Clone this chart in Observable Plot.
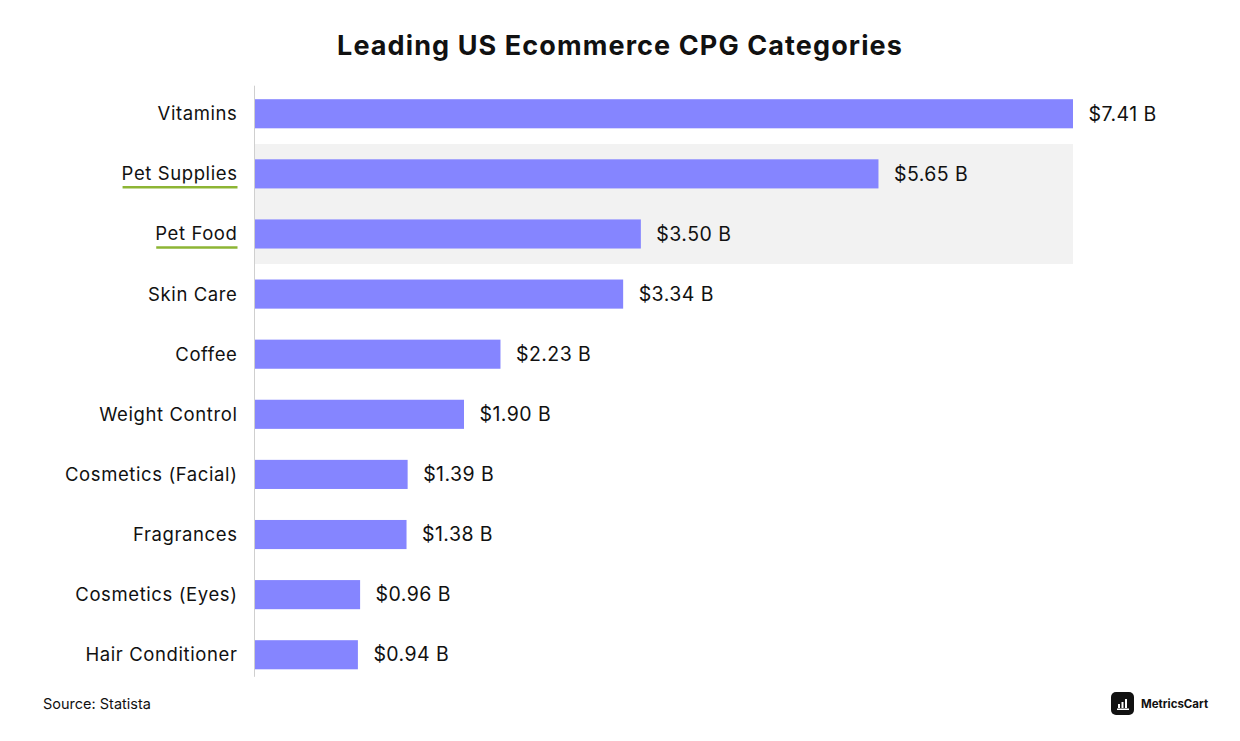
<!DOCTYPE html>
<html>
<head>
<meta charset="utf-8">
<script src="https://cdn.jsdelivr.net/npm/d3@7"></script>
<script src="https://cdn.jsdelivr.net/npm/@observablehq/plot@0.6"></script>
<style>
  html, body { margin: 0; padding: 0; background: #ffffff; }
  #wrap { position: relative; width: 1240px; height: 741px; font-family: Inter, "Open Sans", sans-serif; color: #111; overflow: hidden; }
  #title { height: 70px; display: flex; align-items: center; justify-content: center; font-size: 27px; font-weight: 700; padding-top: 20px; box-sizing: border-box; letter-spacing: 1.1px; }
  #chart { height: 620px; }
  #chart svg { display: block; }
  #footer { position: relative; height: 51px; }
  #source { position: absolute; left: 43px; top: 5px; font-size: 14.5px; color: #111; }
  #logo { position: absolute; left: 1111px; top: 2px; display: flex; align-items: center; gap: 7px; font-size: 11.5px; font-weight: 700; }
  #logo .box { width: 23px; height: 23px; background: #111; border-radius: 5px; display: flex; align-items: center; justify-content: center; }
</style>
</head>
<body>
<div id="wrap">
  <div id="title">Leading US Ecommerce CPG Categories</div>
  <div id="chart"></div>
  <div id="footer">
    <div id="source">Source: Statista</div>
    <div id="logo"><div class="box"><svg width="14" height="14" viewBox="0 0 14 14"><rect x="2" y="7" width="2" height="4" fill="#fff"/><rect x="5.5" y="5" width="2" height="6" fill="#fff"/><rect x="9" y="2" width="2" height="9" fill="#fff"/><rect x="1" y="11.5" width="12" height="1.5" fill="#fff"/></svg></div><span>MetricsCart</span></div>
  </div>
</div>
<script>
const categories = ["Vitamins", "Pet Supplies", "Pet Food", "Skin Care", "Coffee", "Weight Control", "Cosmetics (Facial)", "Fragrances", "Cosmetics (Eyes)", "Hair Conditioner"];
const values = [7.41, 5.65, 3.50, 3.34, 2.23, 1.90, 1.39, 1.38, 0.96, 0.94];
const highlighted = ["Pet Supplies", "Pet Food"];
const xMax = 7.41;

const data = categories.map((c, i) => ({category: c, value: values[i]}));

const chart = Plot.plot({
  width: 1240,
  height: 620,
  marginLeft: 254,
  marginRight: 167,
  marginTop: 13.7,
  marginBottom: 5.2,
  style: {fontFamily: "Inter, 'Open Sans', sans-serif", background: "transparent", color: "#111"},
  x: {domain: [0, xMax], axis: null},
  y: {domain: categories, paddingInner: 0, paddingOuter: 0, round: false, axis: null},
  marks: [
    Plot.barX(highlighted, {y: d => d, x1: 0, x2: xMax, fill: "#f2f2f2", shapeRendering: "crispEdges"}),
    Plot.barX(data, {y: "category", x: "value", fill: "#8585ff", insetTop: 15.5, insetBottom: 15.5}),
    Plot.ruleX([0], {stroke: "#cfcfcf", strokeWidth: 1, insetTop: 2, insetBottom: 8}),
    Plot.text(data, {y: "category", x: "value", text: d => `$${d.value.toFixed(2)} B`, textAnchor: "start", dx: 15, fontSize: 19.5, fill: "#111"}),
    Plot.axisY({tickSize: 0, tickPadding: 17, fontSize: 18.5, label: null, fill: "#111"})
  ]
});
document.getElementById("chart").appendChild(chart);

// letter spacing for labels, and green underline beneath highlighted category labels
const ns = "http://www.w3.org/2000/svg";
chart.querySelectorAll("g[aria-label='y-axis tick label'] text").forEach(t => {
  t.style.letterSpacing = "0.6px";
});
chart.querySelectorAll("g[aria-label='text'] text").forEach(t => {
  t.style.letterSpacing = "0.45px";
});
chart.querySelectorAll("g[aria-label='y-axis tick label'] text").forEach(t => {
  if (highlighted.includes(t.textContent)) {
    const b = t.getBBox();
    const m = t.getCTM();
    const line = document.createElementNS(ns, "line");
    const x1 = m.a * b.x + m.e, x2 = m.a * (b.x + b.width) + m.e;
    const y = m.d * (b.y + b.height) + m.f + 3;
    line.setAttribute("x1", x1 + 1);
    line.setAttribute("x2", x2);
    line.setAttribute("y1", y);
    line.setAttribute("y2", y);
    line.setAttribute("stroke", "#8db534");
    line.setAttribute("stroke-width", 2.5);
    chart.appendChild(line);
  }
});
</script>
</body>
</html>
